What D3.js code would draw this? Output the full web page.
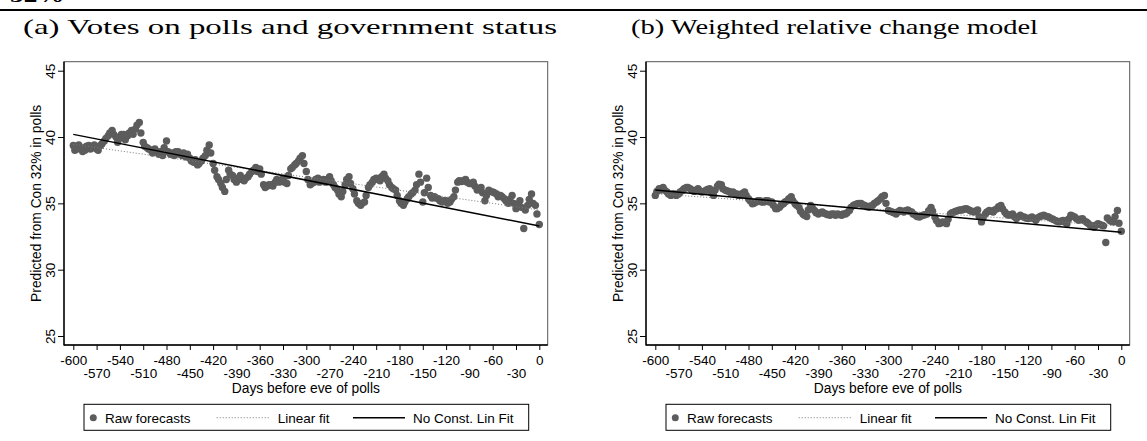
<!DOCTYPE html>
<html><head><meta charset="utf-8">
<script src="https://cdn.jsdelivr.net/npm/d3@7"></script>
<style>body{margin:0;background:#fff}svg{display:block}</style>
</head><body><svg id="c" width="1147" height="441"></svg>
<script>
// ---------- DATA ----------
const panelTitles = ["(a) Votes on polls and government status", "(b) Weighted relative change model"];
const days = [-600,-595,-590,-585,-580,-575,-570,-565,-560,-555,-550,-545,-540,-535,-530,-525,-520,-515,-510,-505,
-500,-495,-490,-485,-480,-475,-470,-465,-460,-455,-450,-445,-440,-435,-430,-425,-420,-415,-410,-405,
-400,-395,-390,-385,-380,-375,-370,-365,-360,-355,-350,-345,-340,-335,-330,-325,-320,-315,-310,-305,
-300,-295,-290,-285,-280,-275,-270,-265,-260,-255,-250,-245,-240,-235,-230,-225,-220,-215,-210,-205,
-200,-195,-190,-185,-180,-175,-170,-165,-160,-155,-150,-145,-140,-135,-130,-125,-120,-115,-110,-105,
-100,-95,-90,-85,-80,-75,-70,-65,-60,-55,-50,-45,-40,-35,-30,-25,-20,-15,-10,-5,0];
const rawA = [39.36,39.1,39.2,39.0,39.36,39.2,39.1,39.36,39.7,40.1,40.5,40.0,39.9,40.2,40.1,40.5,40.6,41.1,39.6,39.2,
39.0,39.1,38.7,38.6,39.7,38.7,38.6,38.9,38.6,38.5,38.4,38.1,37.9,38.2,38.6,39.4,38.0,37.0,36.5,35.9,
37.5,37.1,36.6,37.1,36.7,37.0,37.4,37.7,37.6,36.4,36.3,36.4,36.6,36.6,36.9,36.5,37.6,37.9,38.2,38.6,
37.4,36.4,36.6,36.9,36.7,36.6,37.0,36.4,36.0,35.5,36.4,37.0,36.1,35.2,34.85,35.1,36.2,36.6,36.9,36.7,
37.2,36.7,36.2,36.0,35.2,34.85,35.35,35.7,36.0,37.2,35.1,36.9,35.6,35.5,35.35,35.1,35.2,35.1,35.5,36.6,
36.65,36.8,36.5,36.6,36.0,36.2,35.2,36.0,35.85,35.7,35.6,35.35,35.0,35.6,34.6,35.2,33.1,34.85,35.7,34.85,33.4];
const rawB = [35.6,36.1,36.2,35.85,35.6,35.7,35.7,35.97,36.2,36.1,35.9,36.1,35.85,35.97,36.1,35.6,36.3,36.4,36.0,35.9,
35.85,35.7,35.6,35.85,35.35,34.97,35.1,35.2,35.1,35.2,35.1,34.6,34.7,34.97,35.2,35.5,34.97,34.7,34.2,34.0,
34.85,34.47,34.2,34.35,34.2,34.1,34.2,34.2,34.1,34.2,34.47,34.85,34.97,35.0,34.85,34.7,34.85,35.1,35.35,35.6,
34.47,34.35,34.2,34.47,34.35,34.5,34.35,34.1,33.97,34.1,34.2,34.7,33.97,33.47,33.6,33.47,34.2,34.35,34.47,34.5,
34.6,34.47,34.35,34.5,33.6,34.2,34.47,34.35,34.6,34.85,34.35,34.1,34.2,33.85,34.1,33.97,33.85,33.97,33.72,34.0,
34.1,34.0,33.85,33.72,33.6,33.72,33.47,34.1,33.97,33.72,33.85,33.6,33.35,33.2,33.47,33.35,32.05,33.72,33.6,34.47,32.9];
// in-between days (forecasts between the grid days above)
const daysMid = [-598,-593,-588,-583,-578,-573,-568,-563,-558,-553,-548,-543,-538,-533,-528,-523,-518,-513,-508,-503,
-498,-493,-488,-483,-478,-473,-468,-463,-458,-453,-448,-443,-438,-433,-428,-423,-418,-413,-408,-403,
-398,-393,-388,-383,-378,-373,-368,-363,-358,-353,-348,-343,-338,-333,-328,-323,-318,-313,-308,-303,
-298,-293,-288,-283,-278,-273,-268,-263,-258,-253,-248,-243,-238,-233,-228,-223,-218,-213,-208,-203,
-198,-193,-188,-183,-178,-173,-168,-163,-158,-153,-148,-143,-138,-133,-128,-123,-118,-113,-108,-103,
-98,-93,-88,-83,-78,-73,-68,-63,-58,-53,-48,-43,-38,-33,-28,-23,-18,-13,-8,-3];
const rawAMid = [39.0,39.4,38.9,39.3,39.1,39.4,39.0,39.5,39.9,40.3,40.2,39.6,40.2,39.8,40.3,40.2,40.9,40.3,39.3,39.1,
38.8,38.9,38.9,39.2,38.9,38.8,38.9,38.7,38.8,38.7,38.2,38.3,38.0,38.4,39.0,38.8,37.5,36.8,36.2,36.8,
37.2,36.8,36.9,36.8,36.9,37.2,37.5,37.4,37.2,36.2,36.4,36.3,36.8,36.7,36.6,37.1,37.7,38.0,38.4,38.0,
36.8,36.5,36.8,36.6,36.8,36.8,36.7,36.2,35.7,35.9,36.8,36.5,35.7,35.0,35.0,35.6,36.4,36.8,36.8,37.0,
36.9,36.4,36.1,35.6,35.0,35.1,35.5,35.8,36.4,36.6,35.8,36.2,35.4,35.4,35.2,35.2,35.0,35.3,36.0,36.7,
36.7,36.6,36.5,36.3,36.1,35.8,35.6,35.9,35.8,35.5,35.5,35.2,35.3,35.0,34.9,34.7,34.5,35.3,35.0,34.2];
const rawBMid = [35.9,36.0,36.0,35.7,35.7,35.6,35.85,36.1,36.2,36.0,36.0,35.95,35.9,36.05,35.8,36.0,36.45,36.1,35.95,35.8,
35.75,35.6,35.75,35.6,35.2,35.0,35.2,35.1,35.2,35.1,34.85,34.6,34.85,35.1,35.35,35.2,34.85,34.4,34.1,34.5,
34.7,34.3,34.3,34.25,34.15,34.2,34.1,34.15,34.2,34.3,34.7,34.9,35.0,34.9,34.75,34.8,35.0,35.2,35.5,35.0,
34.4,34.3,34.35,34.4,34.45,34.4,34.2,34.0,34.05,34.15,34.45,34.4,33.7,33.5,33.55,33.8,34.3,34.4,34.5,34.55,
34.55,34.4,34.4,34.0,33.9,34.35,34.4,34.5,34.75,34.6,34.2,34.15,34.0,34.0,34.0,33.9,33.9,33.85,33.9,34.05,
34.05,33.95,33.8,33.65,33.65,33.6,33.8,34.05,33.85,33.8,33.7,33.5,33.3,33.35,33.4,33.3,33.9,33.65,34.0,33.5];
const fitDays = [-600, 0];
const linFitA = [39.45, 34.5];
const noConstA = [40.2, 33.3];
const linFitB = [35.72, 33.28];
const noConstB = [36.0, 32.82];
const xTicks = [-600,-570,-540,-510,-480,-450,-420,-390,-360,-330,-300,-270,-240,-210,-180,-150,-120,-90,-60,-30,0];
const xTickLabels = ["-600","-570","-540","-510","-480","-450","-420","-390","-360","-330","-300","-270","-240","-210","-180","-150","-120","-90","-60","-30","0"];
const yTicks = [25,30,35,40,45];
const yTickLabels = ["25","30","35","40","45"];
const legendLabels = ["Raw forecasts","Linear fit","No Const. Lin Fit"];
const xTitle = "Days before eve of polls";
const yTitle = "Predicted from Con 32% in polls";

// ---------- DRAW ----------
const svg = d3.select("#c");
svg.append("rect").attr("width",1147).attr("height",441).attr("fill","#fff");
const SANS = "'Liberation Sans', Arial, Helvetica, sans-serif";
const SERIF = "'Liberation Serif', 'Times New Roman', serif";
const DOT = "#5c5c5c";

// cut-off caption text and rule at top
svg.append("text").attr("transform","translate(10,2) scale(1.3,1)")
  .attr("font-family",SERIF).attr("font-weight","bold").attr("font-size",21).text("32%");
svg.append("line").attr("x1",0).attr("x2",1147).attr("y1",10).attr("y2",10)
  .attr("stroke","#000").attr("stroke-width",2);

const panels = [
  {dx:0, title:panelTitles[0], raw:rawA, mid:rawAMid, lin:linFitA, nc:noConstA, tx:23, tw:534},
  {dx:582, title:panelTitles[1], raw:rawB, mid:rawBMid, lin:linFitB, nc:noConstB, tx:631, tw:407}
];

panels.forEach(p => {
  const g = svg.append("g").attr("transform",`translate(${p.dx},0)`);
  const L = 64, R = 547.7, T = 61.7, B = 345;
  const x = d3.scaleLinear().domain([-600,0]).range([73.3,539.3]);
  const y = d3.scaleLinear().domain([25,45]).range([336,70.7]);

  // title
  svg.append("text").attr("x",p.tx).attr("y",34)
    .attr("textLength",p.tw).attr("lengthAdjust","spacingAndGlyphs")
    .attr("font-family",SERIF).attr("font-size",22).attr("fill","#000").text(p.title);

  // frame
  g.append("rect").attr("x",L).attr("y",T).attr("width",R-L).attr("height",B-T)
    .attr("fill","none").attr("stroke","#555").attr("stroke-width",1);

  // points
  const pts = g.append("g");
  pts.selectAll("circle.m").data(p.mid).join("circle").attr("class","m")
    .attr("cx",(d,i)=>x(daysMid[i])).attr("cy",d=>y(d)).attr("r",3.7).attr("fill",DOT);
  pts.selectAll("circle.g").data(p.raw).join("circle").attr("class","g")
    .attr("cx",(d,i)=>x(days[i])).attr("cy",d=>y(d)).attr("r",3.7).attr("fill",DOT);

  const line = d3.line().x((d,i)=>x(fitDays[i])).y(d=>y(d));
  g.append("path").attr("d",line(p.lin)).attr("fill","none").attr("stroke","#777")
    .attr("stroke-width",1).attr("stroke-dasharray","1,2");
  g.append("path").attr("d",line(p.nc)).attr("fill","none").attr("stroke","#000")
    .attr("stroke-width",1.5);

  // axes
  const ya = g.append("g").attr("transform",`translate(${L},0)`)
    .call(d3.axisLeft(y).tickValues(yTicks).tickFormat((d,i)=>yTickLabels[i]).tickSize(6).tickSizeOuter(0));
  ya.select(".domain").remove();
  ya.selectAll(".tick line").attr("stroke","#000");
  ya.selectAll(".tick text").attr("x",null).attr("dy",null)
    .attr("transform","translate(-9,0) rotate(-90)").attr("text-anchor","middle")
    .attr("font-family",SANS).attr("font-size",13.5).attr("fill","#000");

  const xa = g.append("g").attr("transform",`translate(0,${B})`)
    .call(d3.axisBottom(x).tickValues(xTicks).tickFormat((d,i)=>xTickLabels[i]).tickSize(5).tickSizeOuter(0));
  xa.select(".domain").remove();
  xa.selectAll(".tick line").attr("stroke","#000");
  xa.selectAll(".tick text").attr("dy",null).attr("y",(d,i)=> i%2===0 ? 20 : 33.3)
    .attr("font-family",SANS).attr("font-size",13.5).attr("fill","#000");

  // axis lines
  g.append("line").attr("x1",L).attr("x2",L).attr("y1",T).attr("y2",B+0.5).attr("stroke","#000").attr("stroke-width",1.4);
  g.append("line").attr("x1",L).attr("x2",R).attr("y1",B).attr("y2",B).attr("stroke","#000").attr("stroke-width",1.4);

  // axis titles
  g.append("text").attr("x",(L+R)/2).attr("y",393).attr("text-anchor","middle")
    .attr("font-family",SANS).attr("font-size",13.8).text(xTitle);
  g.append("text").attr("transform",`translate(40.5,${(T+B)/2}) rotate(-90)`).attr("text-anchor","middle")
    .attr("font-family",SANS).attr("font-size",13.8).text(yTitle);

  // legend
  const lg = g.append("g").attr("transform","translate(-1,0)");
  lg.append("rect").attr("x",85).attr("y",404.3).attr("width",444.7).attr("height",26)
    .attr("fill","#fff").attr("stroke","#000").attr("stroke-width",1);
  const ly = 417.7;
  lg.append("circle").attr("cx",94.3).attr("cy",ly).attr("r",3.5).attr("fill",DOT);
  lg.append("text").attr("x",106).attr("y",422.5).attr("font-family",SANS).attr("font-size",13.5).text(legendLabels[0]);
  lg.append("line").attr("x1",217.7).attr("x2",270).attr("y1",ly).attr("y2",ly)
    .attr("stroke","#777").attr("stroke-width",1).attr("stroke-dasharray","1,2");
  lg.append("text").attr("x",278.7).attr("y",422.5).attr("font-family",SANS).attr("font-size",13.5).text(legendLabels[1]);
  lg.append("line").attr("x1",354).attr("x2",406).attr("y1",ly).attr("y2",ly)
    .attr("stroke","#000").attr("stroke-width",1.5);
  lg.append("text").attr("x",414).attr("y",422.5).attr("font-family",SANS).attr("font-size",13.5).text(legendLabels[2]);
});
</script>
</body></html>
